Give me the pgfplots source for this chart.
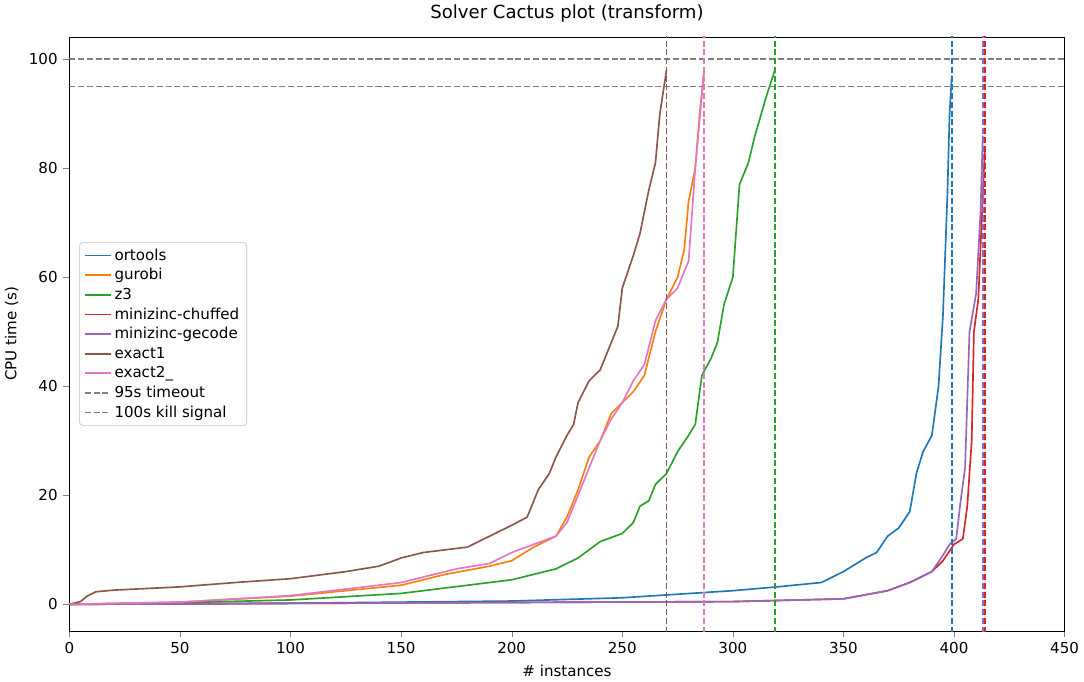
\documentclass[border=0pt]{standalone}
\usepackage{pgfplots}
\pgfplotsset{compat=1.18}
\usepackage{fontspec}
\setmainfont{DejaVu Sans}
\definecolor{c0}{HTML}{1F77B4}\definecolor{c1}{HTML}{FF7F0E}\definecolor{c2}{HTML}{2CA02C}
\definecolor{c3}{HTML}{D62728}\definecolor{c4}{HTML}{9467BD}\definecolor{c5}{HTML}{8C564B}\definecolor{c6}{HTML}{E377C2}
\tikzset{sl/.style={line width=1.1pt}, dl/.style={line width=1.1pt, dash pattern=on 4pt off 1.8pt}}
\begin{document}
\begin{tikzpicture}
\begin{axis}[scale only axis, width=660pt, height=394pt,
 xmin=0,xmax=450,ymin=-4.9,ymax=104.1,
 xtick={0,50,...,450}, ytick={0,20,...,100},
 /pgf/number format/assume math mode=true,
 tick label style={font=\fontsize{10}{11}\selectfont},
 label style={font=\fontsize{10}{11}\selectfont},
 title style={font=\fontsize{12}{13}\selectfont},
 title={Solver Cactus plot (transform)},
 xlabel={\# instances}, ylabel={CPU time (s)},
 tick align=outside, tick pos=left,
 legend style={at={(0.01,0.5)},anchor=west,font=\fontsize{10}{12}\selectfont,draw=black!25,rounded corners=2pt},
 legend cell align=left,
]
\addplot[c0,sl] coordinates {(0,0)(100,0.2)(200,0.6)(250,1.2)(300,2.5)(320,3.2)(340,4)(350,6)(360,8.5)(365,9.5)(370,12.5)(375,14)(380,17)(383,24)(386,28)(390,31)(393,40)(395,53)(397,75)(398,90)(399,97)};
\addlegendentry{ortools}
\addplot[c1,sl] coordinates {(0,0)(50,0.4)(100,1.5)(150,3.5)(170,5.5)(190,7)(200,8)(210,10.5)(220,12.5)(225,16)(230,21)(235,27)(240,30)(245,35)(250,37)(255,39)(260,42)(265,50)(270,56)(275,60)(278,65)(280,74)(283,80)(285,90)(287,98)};
\addlegendentry{gurobi}
\addplot[c2,sl] coordinates {(0,0)(50,0.3)(100,0.8)(150,2)(200,4.5)(210,5.5)(220,6.5)(230,8.5)(240,11.5)(250,13)(255,15)(258,18)(262,19)(265,22)(270,24)(275,28)(280,31)(283,33)(286,42)(290,45)(293,48)(296,55)(300,60)(303,77)(307,81)(310,86)(315,93)(319,98)};
\addlegendentry{z3}
\addplot[c3,sl] coordinates {(0,0)(300,0.5)(350,1)(370,2.5)(380,4)(390,6)(395,8)(400,11)(404,12)(406,18)(408,30)(409,50)(411,56)(413,75)(414,84)};
\addlegendentry{minizinc-chuffed}
\addplot[c4,sl] coordinates {(0,0)(300,0.5)(350,1)(370,2.5)(380,4)(390,6)(395,9)(398,11)(401,12)(403,19)(405,25)(407,50)(410,57)(412,72)(413,86)};
\addlegendentry{minizinc-gecode}
\addplot[c5,sl] coordinates {(0,0)(5,0.5)(8,1.5)(12,2.3)(20,2.6)(50,3.2)(75,4)(100,4.7)(125,6)(140,7)(150,8.5)(160,9.5)(180,10.5)(190,12.5)(200,14.5)(207,16)(212,21)(217,24)(220,27)(225,31)(228,33)(230,37)(235,41)(240,43)(245,48)(248,51)(250,58)(255,64)(258,68)(262,76)(265,81)(267,90)(270,98)};
\addlegendentry{exact1}
\addplot[c6,sl] coordinates {(0,0)(50,0.4)(100,1.6)(150,4)(175,6.5)(190,7.5)(200,9.5)(210,11)(220,12.5)(225,15)(230,20)(235,25)(240,30)(245,34)(250,37)(255,41)(260,44)(265,52)(270,56)(275,58)(280,63)(283,80)(287,98)};
\addlegendentry{exact2\_}
\addplot[gray,dl] coordinates {(0,95)(450,95)};
\addlegendentry{95s timeout}
\addplot[gray,dl] coordinates {(0,100)(450,100)};
\addlegendentry{100s kill signal}
\addplot[c0,dl,forget plot] coordinates {(399,-10)(399,110)};
\addplot[c2,dl,forget plot] coordinates {(319,-10)(319,110)};
\addplot[c4,dl,forget plot] coordinates {(413,-10)(413,110)};
\addplot[c3,dl,forget plot] coordinates {(414,-10)(414,110)};
\addplot[c5,dl,forget plot] coordinates {(270,-10)(270,110)};
\addplot[c6,dl,forget plot] coordinates {(287,-10)(287,110)};
\end{axis}
\end{tikzpicture}
\end{document}
